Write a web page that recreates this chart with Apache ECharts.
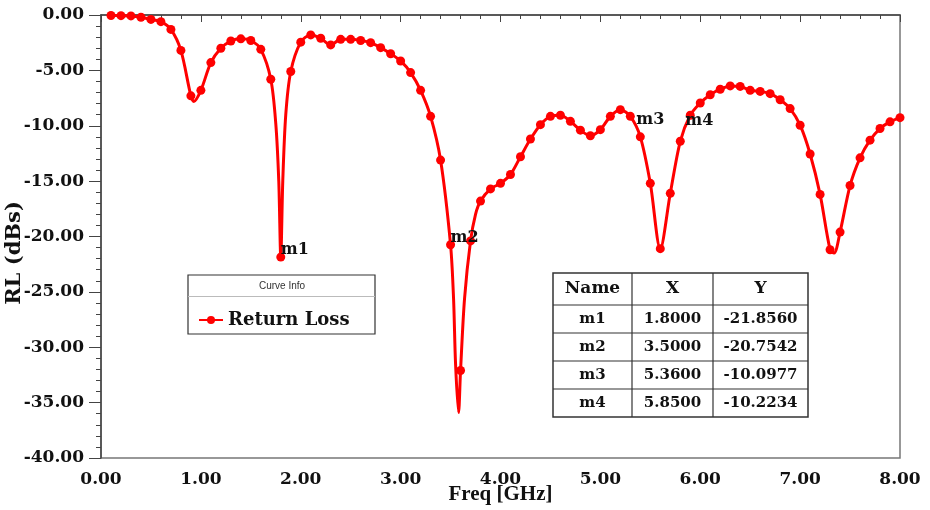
<!DOCTYPE html>
<html>
<head>
<meta charset="utf-8">
<title>Return Loss</title>
<script src="https://cdn.jsdelivr.net/npm/echarts@6/dist/echarts.min.js"></script>
<style>
  html, body { margin: 0; padding: 0; background: #fff; }
  #main { width: 930px; height: 510px; }
</style>
</head>
<body>
<div id="main"></div>
<script>
// sweep (GHz / dB)
var freqGHz = [
  0.1, 0.2, 0.3, 0.4, 0.5, 0.6, 0.7, 0.8, 0.9, 0.93,
  1.0, 1.1, 1.2, 1.3, 1.4, 1.5, 1.6, 1.7, 1.75, 1.78, 1.8, 1.82, 1.85, 1.9,
  2.0, 2.1, 2.2, 2.3, 2.4, 2.5, 2.6, 2.7, 2.8, 2.9,
  3.0, 3.1, 3.2, 3.3, 3.4, 3.5, 3.53, 3.55, 3.58, 3.6, 3.64, 3.7, 3.75, 3.8, 3.9,
  4.0, 4.1, 4.2, 4.3, 4.4, 4.5, 4.6, 4.7, 4.8, 4.9,
  5.0, 5.1, 5.2, 5.3, 5.4, 5.5, 5.6, 5.7, 5.8, 5.9,
  6.0, 6.1, 6.2, 6.3, 6.4, 6.5, 6.6, 6.7, 6.8, 6.9,
  7.0, 7.1, 7.2, 7.3, 7.34, 7.4, 7.5, 7.6, 7.7, 7.8, 7.9, 8.0
];
var rlDb = [
  -0.05, -0.06, -0.08, -0.2, -0.4, -0.6, -1.3, -3.2, -7.3, -7.8,
  -6.8, -4.3, -3.0, -2.35, -2.15, -2.3, -3.1, -5.8, -9.8, -15.0, -21.86, -15.0, -9.0, -5.1,
  -2.45, -1.8, -2.1, -2.7, -2.2, -2.2, -2.3, -2.5, -2.95, -3.5,
  -4.15, -5.2, -6.8, -9.15, -13.1, -20.75, -25.6, -31.5, -35.9, -32.1, -25.6, -20.4, -18.0, -16.8, -15.7,
  -15.2, -14.4, -12.8, -11.2, -9.9, -9.15, -9.05, -9.6, -10.4, -10.9,
  -10.35, -9.15, -8.55, -9.15, -11.0, -15.2, -21.1, -16.1, -11.4, -9.05,
  -7.95, -7.2, -6.7, -6.4, -6.45, -6.8, -6.9, -7.1, -7.65, -8.45,
  -9.95, -12.55, -16.2, -21.2, -21.5, -19.6, -15.4, -12.9, -11.3, -10.25, -9.65, -9.27
];

// markers
var markerNames = ['m1', 'm2', 'm3', 'm4'];
var markerX = [1.8, 3.5, 5.36, 5.85];
var markerY = [-21.856, -20.7542, -10.0977, -10.2234];

var tableHead = ['Name', 'X', 'Y'];
var seriesName = 'Return Loss';

var SERIF = '"DejaVu Serif", "Liberation Serif", serif';

// dots only on the 0.1 GHz grid, the other points just shape the line
var lineData = [];
for (var i = 0; i < freqGHz.length; i++) {
  var f = freqGHz[i];
  var onGrid = Math.abs(f * 10 - Math.round(f * 10)) < 1e-6;
  lineData.push({
    value: [f, rlDb[i]],
    symbol: onGrid ? 'circle' : 'none'
  });
}

var markData = [];
for (var k = 0; k < markerNames.length; k++) {
  markData.push({ name: markerNames[k], coord: [markerX[k], markerY[k]] });
}

// marker table (graphic)
var tbl = { left: 553, top: 273, cols: [79, 81, 95], headH: 32, rowH: 28 };
var tblW = tbl.cols[0] + tbl.cols[1] + tbl.cols[2];
var tblH = tbl.headH + tbl.rowH * markerNames.length;
var tableEls = [];
tableEls.push({
  type: 'rect',
  shape: { x: tbl.left, y: tbl.top, width: tblW, height: tblH },
  style: { fill: '#fff', stroke: '#333', lineWidth: 1.5 },
  z: 100
});
var cx = tbl.left;
for (var c = 0; c < 3; c++) {
  if (c > 0) {
    tableEls.push({
      type: 'line',
      shape: { x1: cx, y1: tbl.top, x2: cx, y2: tbl.top + tblH },
      style: { stroke: '#333', lineWidth: 1.2 },
      z: 101
    });
  }
  tableEls.push({
    type: 'text',
    x: cx + tbl.cols[c] / 2,
    y: tbl.top + tbl.headH / 2,
    style: { text: tableHead[c], textAlign: 'center', textVerticalAlign: 'middle',
      font: 'bold 17px ' + SERIF, fill: '#111' },
    z: 102
  });
  cx += tbl.cols[c];
}
for (var r = 0; r < markerNames.length; r++) {
  var ry = tbl.top + tbl.headH + r * tbl.rowH;
  tableEls.push({
    type: 'line',
    shape: { x1: tbl.left, y1: ry, x2: tbl.left + tblW, y2: ry },
    style: { stroke: '#333', lineWidth: 1.2 },
    z: 101
  });
  var cells = [markerNames[r], markerX[r].toFixed(4), markerY[r].toFixed(4)];
  var x0 = tbl.left;
  for (var c2 = 0; c2 < 3; c2++) {
    tableEls.push({
      type: 'text',
      x: x0 + tbl.cols[c2] / 2,
      y: ry + tbl.rowH / 2,
      style: { text: cells[c2], textAlign: 'center', textVerticalAlign: 'middle',
        font: 'bold 15px ' + SERIF, fill: '#111' },
      z: 102
    });
    x0 += tbl.cols[c2];
  }
}

var chart = echarts.init(document.getElementById('main'), null, { renderer: 'canvas' });

var option = {
  backgroundColor: '#ffffff',
  animation: false,
  grid: {
    left: 101, right: 30, top: 15, bottom: 52,
    outerBoundsMode: 'none',
    containLabel: false,
    show: true, borderColor: '#777', borderWidth: 1.5, backgroundColor: 'transparent'
  },
  legend: {
    data: [seriesName],
    left: 193, top: 306,
    itemWidth: 24, itemHeight: 10,
    itemGap: 10,
    textStyle: { fontFamily: SERIF, fontWeight: 'bold', fontSize: 18, color: '#111' },
    z: 120
  },
  xAxis: {
    type: 'value',
    min: 0, max: 8, interval: 1,
    name: 'Freq [GHz]',
    nameLocation: 'middle',
    nameGap: 26,
    nameMoveOverlap: false,
    nameTextStyle: { fontFamily: '"Liberation Serif", serif', fontWeight: 'bold', fontSize: 21, color: '#111' },
    axisLine: { lineStyle: { color: '#444', width: 1.5 } },
    axisTick: { length: 7, lineStyle: { color: '#444' } },
    minorTick: { show: true, splitNumber: 5, length: 4, lineStyle: { color: '#444' } },
    splitLine: { show: false },
    axisLabel: {
      margin: 13,
      fontFamily: SERIF, fontWeight: 'bold', fontSize: 17, color: '#111',
      formatter: function (v) { return v.toFixed(2); }
    }
  },
  yAxis: {
    type: 'value',
    min: -40, max: 0, interval: 5,
    axisLine: { show: true, lineStyle: { color: '#444', width: 1.5 } },
    axisTick: { show: true, length: 12, lineStyle: { color: '#444' } },
    minorTick: { show: true, splitNumber: 5, length: 5, lineStyle: { color: '#444' } },
    splitLine: { show: false },
    axisLabel: {
      margin: 17,
      fontFamily: SERIF, fontWeight: 'bold', fontSize: 17, color: '#111',
      formatter: function (v) { return v.toFixed(2); }
    }
  },
  graphic: [
    {
      // y axis title, sits a bit below the axis middle in the original
      type: 'text',
      x: 15, y: 253,
      rotation: Math.PI / 2,
      style: { text: 'RL (dBs)', textAlign: 'center', textVerticalAlign: 'middle',
        font: 'bold 21px ' + SERIF, fill: '#111' }
    },
    {
      // Curve Info box
      type: 'rect',
      shape: { x: 188, y: 275, width: 187, height: 59 },
      style: { fill: '#fff', stroke: '#333', lineWidth: 1.2 },
      z: 100
    },
    {
      type: 'line',
      shape: { x1: 188, y1: 296.5, x2: 375, y2: 296.5 },
      style: { stroke: '#bbb', lineWidth: 1 },
      z: 101
    },
    {
      type: 'text',
      x: 282, y: 286,
      style: { text: 'Curve Info', textAlign: 'center', textVerticalAlign: 'middle',
        font: '10px "Liberation Sans", Arial, sans-serif', fill: '#333' },
      z: 101
    }
  ].concat(tableEls),
  series: [{
    name: seriesName,
    type: 'line',
    data: lineData,
    smooth: 0.3,
    symbol: 'circle',
    symbolSize: 9,
    showAllSymbol: true,
    itemStyle: { color: '#ff0000' },
    lineStyle: { color: '#ff0000', width: 3 },
    z: 3,
    markPoint: {
      symbol: 'circle',
      symbolSize: 0,
      data: markData,
      label: {
        show: true,
        position: [0, -7],
        align: 'left',
        verticalAlign: 'middle',
        formatter: '{b}',
        fontFamily: SERIF, fontWeight: 'bold', fontSize: 16, color: '#111'
      }
    }
  }]
};

chart.setOption(option);
</script>
</body>
</html>
